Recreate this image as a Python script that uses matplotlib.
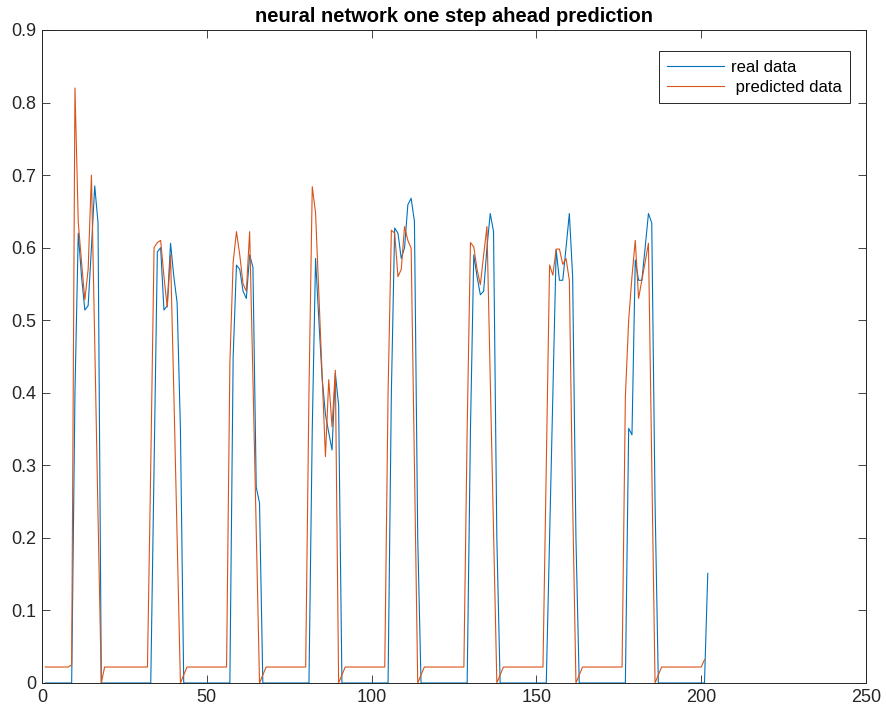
import numpy as np
import matplotlib
matplotlib.use("Agg")
import matplotlib.pyplot as plt

plt.rcParams["font.family"] = ["Liberation Sans", "DejaVu Sans"]

# real data (one value per time step, starting at step 1)
real_data = [
    0, 0, 0, 0, 0, 0, 0, 0, 0, 0.40, 0.62, 0.56, 0.514, 0.52, 0.60, 0.685, 0.634,
    0, 0, 0, 0, 0, 0, 0, 0, 0, 0, 0, 0, 0, 0, 0, 0,
    0.30, 0.594, 0.60, 0.514, 0.52, 0.606, 0.56, 0.524, 0.35,
    0, 0, 0, 0, 0, 0, 0, 0, 0, 0, 0, 0, 0, 0, 0,
    0.45, 0.576, 0.57, 0.54, 0.53, 0.59, 0.573, 0.27, 0.248,
    0, 0, 0, 0, 0, 0, 0, 0, 0, 0, 0, 0, 0, 0, 0,
    0.35, 0.585, 0.50, 0.42, 0.37, 0.345, 0.321, 0.427, 0.383,
    0, 0, 0, 0, 0, 0, 0, 0, 0, 0, 0, 0, 0, 0, 0,
    0.40, 0.627, 0.62, 0.585, 0.60, 0.659, 0.668, 0.636, 0.20,
    0, 0, 0, 0, 0, 0, 0, 0, 0, 0, 0, 0, 0, 0, 0,
    0.35, 0.59, 0.56, 0.535, 0.54, 0.60, 0.647, 0.622, 0.20,
    0, 0, 0, 0, 0, 0, 0, 0, 0, 0, 0, 0, 0, 0, 0,
    0.20, 0.40, 0.597, 0.555, 0.555, 0.60, 0.647, 0.56, 0.20,
    0, 0, 0, 0, 0, 0, 0, 0, 0, 0, 0, 0, 0, 0, 0,
    0.351, 0.342, 0.583, 0.555, 0.555, 0.60, 0.647, 0.634, 0.25,
    0, 0, 0, 0, 0, 0, 0, 0, 0, 0, 0, 0, 0, 0, 0,
    0.151,
]

# network output
predicted_data = [
    0.022, 0.022, 0.022, 0.022, 0.022, 0.022, 0.022, 0.022, 0.025,
    0.82, 0.635, 0.58, 0.528, 0.57, 0.70, 0.47, 0.23, 0.0,
    0.022, 0.022, 0.022, 0.022, 0.022, 0.022, 0.022, 0.022, 0.022, 0.022, 0.022, 0.022, 0.022, 0.022,
    0.30, 0.60, 0.607, 0.61, 0.56, 0.518, 0.59, 0.40, 0.20, 0.0, 0.011,
    0.022, 0.022, 0.022, 0.022, 0.022, 0.022, 0.022, 0.022, 0.022, 0.022, 0.022, 0.022, 0.022,
    0.44, 0.58, 0.622, 0.59, 0.55, 0.54, 0.622, 0.42, 0.21, 0.0, 0.011,
    0.022, 0.022, 0.022, 0.022, 0.022, 0.022, 0.022, 0.022, 0.022, 0.022, 0.022, 0.022, 0.022,
    0.40, 0.684, 0.648, 0.536, 0.424, 0.312, 0.418, 0.353, 0.431, 0.0, 0.011,
    0.022, 0.022, 0.022, 0.022, 0.022, 0.022, 0.022, 0.022, 0.022, 0.022, 0.022, 0.022, 0.022,
    0.40, 0.624, 0.62, 0.56, 0.57, 0.629, 0.61, 0.599, 0.30, 0.0, 0.011,
    0.022, 0.022, 0.022, 0.022, 0.022, 0.022, 0.022, 0.022, 0.022, 0.022, 0.022, 0.022, 0.022,
    0.35, 0.607, 0.601, 0.57, 0.549, 0.59, 0.629, 0.42, 0.21, 0.0, 0.011,
    0.022, 0.022, 0.022, 0.022, 0.022, 0.022, 0.022, 0.022, 0.022, 0.022, 0.022, 0.022, 0.022,
    0.30, 0.576, 0.562, 0.598, 0.598, 0.577, 0.585, 0.555, 0.25, 0.0, 0.011,
    0.022, 0.022, 0.022, 0.022, 0.022, 0.022, 0.022, 0.022, 0.022, 0.022, 0.022, 0.022, 0.022,
    0.395, 0.50, 0.56, 0.61, 0.53, 0.555, 0.58, 0.606, 0.30, 0.0, 0.011,
    0.022, 0.022, 0.022, 0.022, 0.022, 0.022, 0.022, 0.022, 0.022, 0.022, 0.022, 0.022, 0.022,
    0.032,
]

x_ticks = [0, 50, 100, 150, 200, 250]
y_ticks = [0, 0.1, 0.2, 0.3, 0.4, 0.5, 0.6, 0.7, 0.8, 0.9]

fig = plt.figure(figsize=(8.86, 7.13), dpi=100)
ax = fig.add_axes([0.0474, 0.0421, 0.930, 0.9159])

ax.plot(np.arange(1, len(real_data) + 1), real_data, color="#0072BD", lw=0.8, label="real data")
ax.plot(np.arange(1, len(predicted_data) + 1), predicted_data, color="#D95319", lw=0.8,
        label=" predicted data")

ax.set_xlim(0, 250)
ax.set_ylim(0, 0.9)
ax.set_xticks(x_ticks)
ax.set_yticks(y_ticks)
ax.set_xticklabels([str(t) for t in x_ticks])
ax.set_yticklabels(["0"] + ["%.1f" % t for t in y_ticks[1:]])
ax.tick_params(direction="in", top=True, right=True, length=6, width=0.6,
               labelsize=13, colors="#262626", pad=4)
for s in ax.spines.values():
    s.set_linewidth(0.7)
    s.set_color("#262626")

ax.set_title("neural network one step ahead prediction", fontsize=14.5, fontweight="bold", pad=6)

leg = ax.legend(loc="upper right", bbox_to_anchor=(0.981, 0.967), borderaxespad=0,
                fontsize=12, handlelength=3.4, handletextpad=0.45, fancybox=False, framealpha=1,
                edgecolor="#262626", borderpad=0.5, labelspacing=0.3)
leg.get_frame().set_linewidth(0.7)

fig.savefig("out.png", dpi=100)
